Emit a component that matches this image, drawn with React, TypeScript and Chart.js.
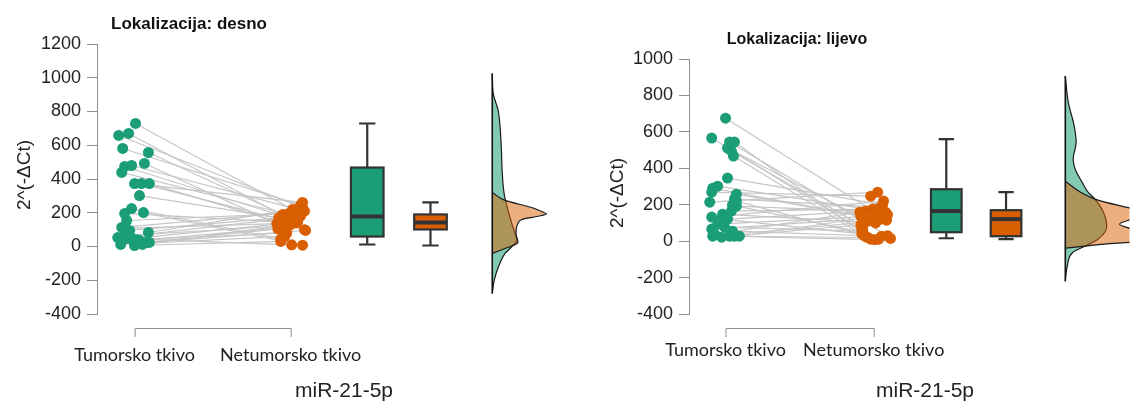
import React, { useEffect, useRef } from "react";
import { Chart, registerables } from "chart.js";

Chart.register(...registerables);

// ---------- shared text ----------
const categories = ["Tumorsko tkivo", "Netumorsko tkivo"];
const geneLabel = "miR-21-5p";
const yAxisTitle = "2^(-ΔCt)";

// ---------- left panel: desno ----------
const desnoTitle = "Lokalizacija: desno";
const desnoTicks = [-400, -200, 0, 200, 400, 600, 800, 1000, 1200];
const desnoTumor = [729, 658, 670, 581, 557, 474, 480, 492, 439, 373, 373, 373, 302, 225, 196, 201, 154, 113, 107, 95, 83, 53, 65, 47, 36, 24, 12, 6, 12, 24, 47, 40];
const desnoTumorJitter = [1, -16, -6, -12, 14, -10, -3, 10, -13, 0, 7, 15, 5, -3, -10, 9, -8, -13, -10, -5, 14, -17, -10, -2, 5, 12, -14, 0, 8, 15, -7, 3];
const desnoNormal = [200, 230, 175, 245, 190, 160, 210, 125, 185, 261, 150, 100, 170, 45, 140, 8, 195, 205, 135, 180, 220, 165, 120, 145, 110, 105, 60, 30, 130, 95, 10, 80];
const desnoNormalJitter = [8, 12, -5, 10, -8, 3, 14, -10, 0, 12, -3, 14, -12, -10, 6, 12, -2, 5, -14, 10, 2, -7, -12, 7, -9, -13, -6, -10, 0, 15, 1, -4];
const desnoTumorBox = [12, 59, 178, 468, 729];
const desnoNormalBox = [6, 101, 142, 190, 261];
const desnoTumorDensV = [1025, 907, 806, 610, 450, 314, 213, 113, 36, -6, -41, -124, -201, -279];
const desnoTumorDensW = [0, 1, 6, 9, 10, 12, 16, 21, 25, 19, 13, 6, 2, 0];
const desnoNormalDensV = [320, 273, 231, 207, 192, 178, 160, 136, 77, 24, 6, -12, -41];
const desnoNormalDensW = [0, 13, 40, 50, 55, 45, 30, 26, 24, 26, 21, 13, 0];

// ---------- right panel: lijevo ----------
const lijevoTitle = "Lokalizacija: lijevo";
const lijevoTicks = [-400, -200, 0, 200, 400, 600, 800, 1000];
const lijevoTumor = [675, 566, 544, 544, 511, 494, 467, 346, 302, 291, 269, 258, 214, 231, 198, 192, 165, 148, 132, 121, 121, 93, 66, 77, 38, 22, 27, 27, 27, 27, 55, 220];
const lijevoTumorJitter = [0, -14, 4, 9, 2, 6, 8, 2, -8, -13, -14, 11, -16, 9, 7, 11, 6, -3, -14, -4, 2, -8, -14, -1, -11, -4, 4, 9, 14, -13, 7, 11];
const lijevoNormal = [150, 60, 30, 11, 110, 82, 27, 200, 170, 137, 247, 121, 269, 187, 15, 159, 176, 100, 220, 40, 165, 137, 130, 55, 159, 90, 8, 20, 145, 115, 27, 11];
const lijevoNormalJitter = [4, -12, 14, -3, -6, -11, -9, 9, 0, -13, -3, 7, 4, 7, 17, 12, -1, 2, 10, -12, -8, 1, 11, -11, -14, -13, 1, -6, 14, 13, 8, 5];
const lijevoTumorBox = [16, 49, 165, 285, 560];
const lijevoNormalBox = [11, 27, 121, 170, 269];
const lijevoTumorDensV = [906, 763, 632, 544, 450, 395, 324, 269, 231, 176, 121, 82, 49, 11, -27, -60, -137, -220];
const lijevoTumorDensW = [0, 3, 9, 11, 8, 10, 17, 23, 30, 37, 41, 42, 40, 33, 20, 8, 2, 0];
const lijevoNormalDensV = [329, 270, 231, 192, 170, 150, 121, 93, 66, 35, 10, -5, -16, -27, -38];
const lijevoNormalDensW = [0, 15, 30, 57, 75, 85, 68, 55, 68, 85, 80, 70, 40, 20, 0];

// ---------- styles ----------
const GREEN = "#1b9e77";
const ORANGE = "#d95f02";
const GREEN_FILL = "rgba(27,158,119,0.55)";
const ORANGE_FILL = "rgba(217,95,2,0.5)";
const PAIR_LINE = "#c6c6c6";
const AXIS = "#8f8f8f";
const OUTLINE = "#333333";
const SANS = "'Liberation Sans', Arial, sans-serif";
const CAT_FONT = "Lato, 'Liberation Sans', sans-serif";

type Panel = {
  title: string;
  ticks: number[];
  tumor: number[];
  tumorJitter: number[];
  normal: number[];
  normalJitter: number[];
  tumorBox: number[];
  normalBox: number[];
  tumorDensV: number[];
  tumorDensW: number[];
  normalDensV: number[];
  normalDensW: number[];
  canvasLeft: number;
  canvasWidth: number;
  axisWidth: number;
  areaTop: number;
  areaBottom: number;
  catPos: number[];
  boxPos: number[];
  boxWidth: number;
  densPos: number;
  titleX: number;
  titleY: number;
  titleSize: number;
  yTitleX: number;
  yTitleY: number;
  catY: number;
  geneX: number;
  geneY: number;
  bracketY: number;
};

const panels: Panel[] = [
  {
    title: desnoTitle, ticks: desnoTicks,
    tumor: desnoTumor, tumorJitter: desnoTumorJitter,
    normal: desnoNormal, normalJitter: desnoNormalJitter,
    tumorBox: desnoTumorBox, normalBox: desnoNormalBox,
    tumorDensV: desnoTumorDensV, tumorDensW: desnoTumorDensW,
    normalDensV: desnoNormalDensV, normalDensW: desnoNormalDensW,
    canvasLeft: 0, canvasWidth: 560, axisWidth: 97, areaTop: 44, areaBottom: 314,
    catPos: [38, 196], boxPos: [273.5, 337.5], boxWidth: 33, densPos: 400,
    titleX: 189, titleY: 29, titleSize: 17, yTitleX: 25, yTitleY: 175,
    catY: 355, geneX: 344, geneY: 397, bracketY: 328,
  },
  {
    title: lijevoTitle, ticks: lijevoTicks,
    tumor: lijevoTumor, tumorJitter: lijevoTumorJitter,
    normal: lijevoNormal, normalJitter: lijevoNormalJitter,
    tumorBox: lijevoTumorBox, normalBox: lijevoNormalBox,
    tumorDensV: lijevoTumorDensV, tumorDensW: lijevoTumorDensW,
    normalDensV: lijevoNormalDensV, normalDensW: lijevoNormalDensW,
    canvasLeft: 560, canvasWidth: 575, axisWidth: 129, areaTop: 59, areaBottom: 314,
    catPos: [37, 187], boxPos: [260.5, 321], boxWidth: 31, densPos: 381,
    titleX: 237, titleY: 44, titleSize: 16, yTitleX: 58, yTitleY: 193,
    catY: 350, geneX: 365, geneY: 397, bracketY: 328,
  },
];

function makeExtras(p: Panel) {
  return {
    id: "panelExtras",
    afterDatasetsDraw(chart: any) {
      const { ctx } = chart;
      const xs = chart.scales.x;
      const ys = chart.scales.y;
      const boxes = [
        { pos: p.boxPos[0], stats: p.tumorBox, color: GREEN },
        { pos: p.boxPos[1], stats: p.normalBox, color: ORANGE },
      ];
      ctx.save();
      boxes.forEach((b) => {
        const cx = xs.getPixelForValue(b.pos);
        const half = (xs.getPixelForValue(b.pos + p.boxWidth / 2) - xs.getPixelForValue(b.pos - p.boxWidth / 2)) / 2;
        const [lo, q1, med, q3, hi] = b.stats.map((v) => ys.getPixelForValue(v));
        ctx.strokeStyle = OUTLINE;
        ctx.lineWidth = 2.2;
        ctx.beginPath();
        ctx.moveTo(cx, hi); ctx.lineTo(cx, q3);
        ctx.moveTo(cx, q1); ctx.lineTo(cx, lo);
        ctx.moveTo(cx - half / 2, hi); ctx.lineTo(cx + half / 2, hi);
        ctx.moveTo(cx - half / 2, lo); ctx.lineTo(cx + half / 2, lo);
        ctx.stroke();
        ctx.fillStyle = b.color;
        ctx.fillRect(cx - half, q3, 2 * half, q1 - q3);
        ctx.strokeRect(cx - half, q3, 2 * half, q1 - q3);
        ctx.lineWidth = 4;
        ctx.beginPath();
        ctx.moveTo(cx - half, med); ctx.lineTo(cx + half, med);
        ctx.stroke();
      });
      ctx.restore();
    },
    afterDraw(chart: any) {
      const { ctx } = chart;
      const xs = chart.scales.x;
      const x0 = xs.getPixelForValue(p.catPos[0]);
      const x1 = xs.getPixelForValue(p.catPos[1]);
      ctx.save();
      // bracket axis
      ctx.strokeStyle = AXIS;
      ctx.lineWidth = 1;
      ctx.beginPath();
      ctx.moveTo(x0 + 0.5, p.bracketY + 9);
      ctx.lineTo(x0 + 0.5, p.bracketY + 0.5);
      ctx.lineTo(x1 + 0.5, p.bracketY + 0.5);
      ctx.lineTo(x1 + 0.5, p.bracketY + 9);
      ctx.stroke();
      // category labels
      ctx.fillStyle = "#222";
      ctx.font = `18px ${CAT_FONT}`;
      ctx.textAlign = "center";
      ctx.textBaseline = "middle";
      ctx.fillText(categories[0], x0, p.catY);
      ctx.fillText(categories[1], x1, p.catY);
      // gene label
      ctx.font = `21px ${SANS}`;
      ctx.textBaseline = "alphabetic";
      ctx.fillText(geneLabel, p.geneX, p.geneY);
      // title
      ctx.fillStyle = "#111";
      ctx.font = `bold ${p.titleSize}px ${SANS}`;
      ctx.fillText(p.title, p.titleX, p.titleY);
      // y title
      ctx.translate(p.yTitleX, p.yTitleY);
      ctx.rotate(-Math.PI / 2);
      ctx.fillStyle = "#222";
      ctx.font = `19px ${SANS}`;
      ctx.textBaseline = "middle";
      ctx.fillText(yAxisTitle, 0, 0);
      ctx.restore();
    },
  };
}

function buildConfig(p: Panel): any {
  const tx = p.catPos[0];
  const nx = p.catPos[1];
  const datasets: any[] = [];
  p.tumor.forEach((v, i) => {
    datasets.push({
      type: "line",
      data: [
        { x: tx + p.tumorJitter[i], y: v },
        { x: nx + p.normalJitter[i], y: p.normal[i] },
      ],
      borderColor: PAIR_LINE,
      borderWidth: 1.2,
      pointRadius: 0,
      fill: false,
      order: 20,
    });
  });
  datasets.push({
    type: "scatter",
    data: p.tumor.map((v, i) => ({ x: tx + p.tumorJitter[i], y: v })),
    backgroundColor: GREEN,
    pointBackgroundColor: GREEN,
    pointBorderWidth: 0,
    pointRadius: 5.5,
    order: 2,
  });
  datasets.push({
    type: "scatter",
    data: p.normal.map((v, i) => ({ x: nx + p.normalJitter[i], y: v })),
    backgroundColor: ORANGE,
    pointBackgroundColor: ORANGE,
    pointBorderWidth: 0,
    pointRadius: 5.5,
    order: 1,
  });
  datasets.push({
    type: "line",
    indexAxis: "y",
    data: p.tumorDensV.map((v, i) => ({ x: p.densPos + p.tumorDensW[i], y: v })),
    borderColor: "#1a1a1a",
    borderWidth: 1.2,
    backgroundColor: GREEN_FILL,
    fill: "shape",
    cubicInterpolationMode: "monotone",
    pointRadius: 0,
    order: 12,
  });
  datasets.push({
    type: "line",
    indexAxis: "y",
    data: p.normalDensV.map((v, i) => ({ x: p.densPos + p.normalDensW[i], y: v })),
    borderColor: "#1a1a1a",
    borderWidth: 1.2,
    backgroundColor: ORANGE_FILL,
    fill: "shape",
    cubicInterpolationMode: "monotone",
    pointRadius: 0,
    order: 11,
  });
  const densAll = p.tumorDensV.concat(p.normalDensV);
  datasets.push({
    type: "line",
    data: [
      { x: p.densPos, y: Math.max(...densAll) },
      { x: p.densPos, y: Math.min(...densAll) },
    ],
    borderColor: "#111",
    borderWidth: 1.6,
    pointRadius: 0,
    fill: false,
    order: 10,
  });

  return {
    type: "scatter",
    data: { datasets },
    options: {
      responsive: false,
      animation: false,
      events: [],
      layout: {
        padding: { top: p.areaTop, bottom: 401 - p.areaBottom, left: 0, right: 0 },
      },
      plugins: {
        legend: { display: false },
        tooltip: { enabled: false },
        title: { display: false },
      },
      scales: {
        x: {
          type: "linear",
          min: 0,
          max: p.canvasWidth - p.axisWidth,
          display: false,
        },
        y: {
          type: "linear",
          min: p.ticks[0],
          max: p.ticks[p.ticks.length - 1],
          afterFit: (s: any) => {
            s.width = p.axisWidth;
          },
          afterBuildTicks: (s: any) => {
            s.ticks = p.ticks.map((v) => ({ value: v }));
          },
          ticks: {
            color: "#222",
            padding: 6,
            font: { family: SANS, size: 18 },
            callback: (v: any) => String(v),
          },
          grid: {
            display: true,
            drawOnChartArea: false,
            drawTicks: true,
            tickLength: 10,
            color: AXIS,
            lineWidth: 1,
          },
          border: { display: true, color: AXIS, width: 1 },
        },
      },
    },
    plugins: [makeExtras(p)],
  };
}

function PanelChart({ p }: { p: Panel }) {
  const ref = useRef<HTMLCanvasElement | null>(null);
  useEffect(() => {
    if (!ref.current) return;
    const chart = new Chart(ref.current, buildConfig(p));
    return () => chart.destroy();
  }, [p]);
  return (
    <canvas
      ref={ref}
      width={p.canvasWidth}
      height={401}
      style={{ position: "absolute", left: p.canvasLeft, top: 0, width: p.canvasWidth, height: 401, display: "block" }}
    />
  );
}

export default function App() {
  useEffect(() => {
    document.body.style.margin = "0";
    document.body.style.background = "#ffffff";
  }, []);
  return (
    <div style={{ position: "relative", width: 1135, height: 401, overflow: "hidden", background: "#fff" }}>
      {panels.map((p, i) => (
        <PanelChart key={i} p={p} />
      ))}
    </div>
  );
}
